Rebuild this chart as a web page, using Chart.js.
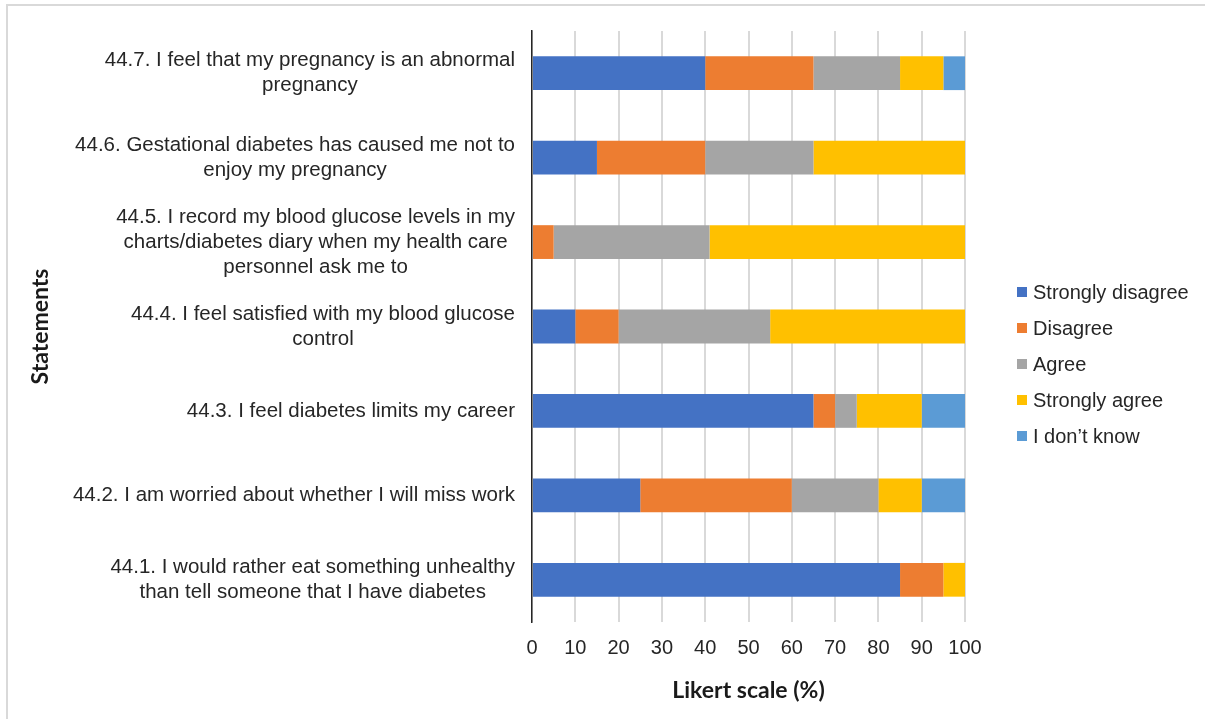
<!DOCTYPE html>
<html lang="en">
<head>
    <meta charset="UTF-8">
    <title>Likert scale responses</title>
    <script src="https://cdn.jsdelivr.net/npm/chart.js@4.4.0/dist/chart.umd.min.js"></script>
    <style>
        body {
            margin: 0;
            background: #fff;
        }
        #wrap {
            position: relative;
            width: 1205px;
            height: 719px;
            overflow: hidden;
        }
        #frame {
            position: absolute;
            left: 6px;
            top: 4px;
            width: 1300px;
            height: 800px;
            border-left: 2px solid #d9d9d9;
            border-top: 2px solid #d9d9d9;
            pointer-events: none;
        }
    </style>
</head>
<body>
    <div id="wrap">
        <canvas id="chart" width="1205" height="719"></canvas>
        <div id="frame"></div>
    </div>

    <script>
        // statements, top to bottom
        const statements = [
            ['44.7. I feel that my pregnancy is an abnormal', 'pregnancy'],
            ['44.6. Gestational diabetes has caused me not to', 'enjoy my pregnancy'],
            ['44.5. I record my blood glucose levels in my', 'charts/diabetes diary when my health care', 'personnel ask me to'],
            ['44.4. I feel satisfied with my blood glucose', 'control'],
            ['44.3. I feel diabetes limits my career'],
            ['44.2. I am worried about whether I will miss work'],
            ['44.1. I would rather eat something unhealthy', 'than tell someone that I have diabetes']
        ];

        const seriesNames = ['Strongly disagree', 'Disagree', 'Agree', 'Strongly agree', 'I don\u2019t know'];
        const seriesColors = ['#4472C4', '#ED7D31', '#A5A5A5', '#FFC000', '#5B9BD5'];

        // percentages, same order as statements
        const stronglyDisagree = [40, 15, 0, 10, 65, 25, 85];
        const disagree = [25, 25, 5, 10, 5, 35, 10];
        const agree = [20, 25, 36, 35, 5, 20, 0];
        const stronglyAgree = [10, 35, 59, 45, 15, 10, 5];
        const dontKnow = [5, 0, 0, 0, 10, 10, 0];

        const xTicks = [0, 10, 20, 30, 40, 50, 60, 70, 80, 90, 100];

        const textColor = '#262626';
        const mainFont = 'Arial, "Liberation Sans", Helvetica, sans-serif';
        const titleFont = 'Lato, "Open Sans", sans-serif';

        const allSeries = [stronglyDisagree, disagree, agree, stronglyAgree, dontKnow];

        // y labels (centred lines, right-aligned block) and legend
        const extraText = {
            id: 'extraText',
            afterDraw(chart) {
                const ctx = chart.ctx;
                const yScale = chart.scales.y;
                ctx.save();
                ctx.font = '20.5px ' + mainFont;
                ctx.fillStyle = textColor;
                ctx.textBaseline = 'middle';
                ctx.textAlign = 'center';
                const labelRight = yScale.right - 17;
                statements.forEach((lines, i) => {
                    const cy = yScale.getPixelForTick(i);
                    const w = Math.max(...lines.map(l => ctx.measureText(l).width));
                    const cx = labelRight - w / 2;
                    lines.forEach((line, j) => {
                        ctx.fillText(line, cx, cy + (j - (lines.length - 1) / 2) * 25);
                    });
                });

                // legend
                ctx.font = '20px ' + mainFont;
                ctx.textAlign = 'left';
                chart.data.datasets.forEach((ds, i) => {
                    const cy = 292 + i * 36;
                    ctx.fillStyle = ds.backgroundColor;
                    ctx.fillRect(1017, cy - 5, 10, 10);
                    ctx.fillStyle = textColor;
                    ctx.fillText(ds.label, 1033, cy + 1);
                });
                ctx.restore();
            }
        };

        const ctx = document.getElementById('chart').getContext('2d');
        new Chart(ctx, {
            type: 'bar',
            data: {
                labels: statements,
                datasets: seriesNames.map((name, i) => ({
                    label: name,
                    data: allSeries[i],
                    backgroundColor: seriesColors[i],
                    borderWidth: 0,
                    categoryPercentage: 1,
                    barPercentage: 0.4
                }))
            },
            options: {
                indexAxis: 'y',
                responsive: false,
                animation: false,
                layout: {
                    padding: { top: 31, right: 240, bottom: 0, left: 0 }
                },
                plugins: {
                    legend: { display: false },
                    tooltip: { enabled: false }
                },
                scales: {
                    x: {
                        stacked: true,
                        min: 0,
                        max: 100,
                        afterBuildTicks: (scale) => {
                            scale.ticks = xTicks.map(v => ({ value: v }));
                        },
                        afterFit: (scale) => { scale.height = 97; },
                        grid: {
                            color: '#d9d9d9',
                            lineWidth: 2,
                            drawTicks: false
                        },
                        border: { display: false },
                        ticks: {
                            padding: 14,
                            color: textColor,
                            font: { family: mainFont, size: 20 }
                        },
                        title: {
                            display: true,
                            text: 'Likert scale (%)',
                            color: '#1a1a1a',
                            font: { family: titleFont, size: 23, weight: 'bold' },
                            padding: { top: 0, bottom: 15 }
                        }
                    },
                    y: {
                        stacked: true,
                        afterFit: (scale) => { scale.width = 532; },
                        grid: { display: false, drawTicks: false },
                        border: { display: true, color: '#262626', width: 1.5 },
                        ticks: { display: false },
                        title: {
                            display: true,
                            text: 'Statements',
                            color: '#1a1a1a',
                            font: { family: titleFont, size: 23, weight: 'bold' },
                            padding: { top: 27, bottom: 0 }
                        }
                    }
                }
            },
            plugins: [extraText]
        });
    </script>
</body>
</html>
